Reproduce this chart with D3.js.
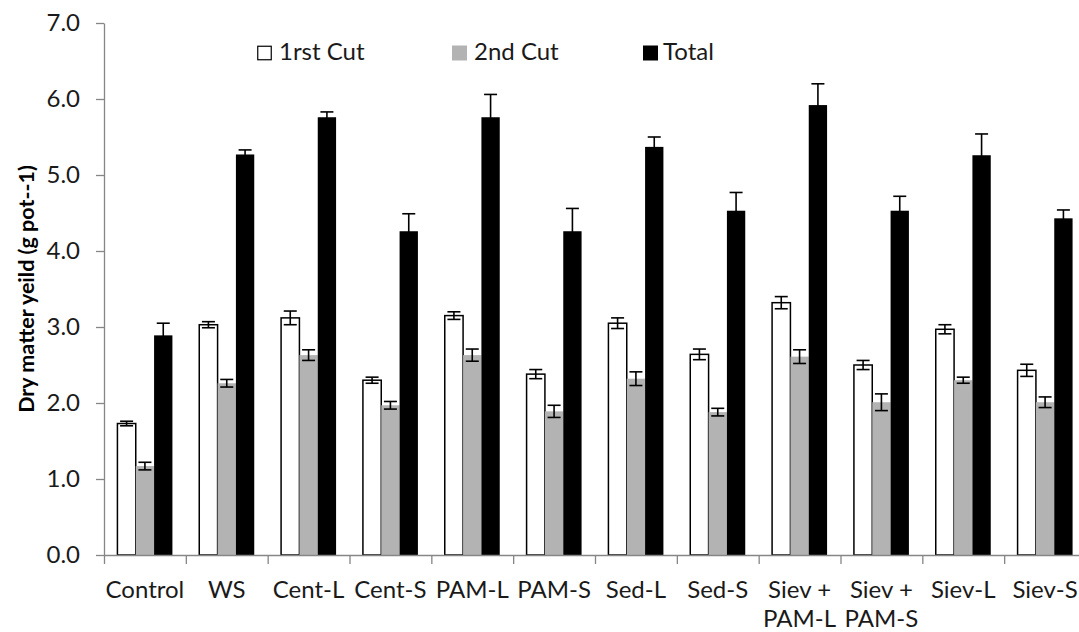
<!DOCTYPE html>
<html>
<head>
<meta charset="utf-8">
<script src="https://cdn.jsdelivr.net/npm/d3@7"></script>
<style>
  body { margin: 0; background: #fff; }
  svg { display: block; font-family: Lato, "Open Sans", sans-serif; }
</style>
</head>
<body>
<svg id="chart"></svg>
<script>
// data
const categories = ["Control", "WS", "Cent-L", "Cent-S", "PAM-L", "PAM-S", "Sed-L", "Sed-S",
  "Siev + PAM-L", "Siev + PAM-S", "Siev-L", "Siev-S"];
const categoryLines = [["Control"], ["WS"], ["Cent-L"], ["Cent-S"], ["PAM-L"], ["PAM-S"], ["Sed-L"], ["Sed-S"],
  ["Siev +", "PAM-L"], ["Siev +", "PAM-S"], ["Siev-L"], ["Siev-S"]];
const seriesNames = ["1rst Cut", "2nd Cut", "Total"];
const firstCut = [1.73, 3.03, 3.12, 2.30, 3.15, 2.38, 3.05, 2.64, 3.32, 2.50, 2.97, 2.43];
const firstErr = [0.03, 0.04, 0.09, 0.04, 0.05, 0.06, 0.07, 0.07, 0.08, 0.06, 0.06, 0.08];
const secondCut = [1.17, 2.26, 2.63, 1.97, 2.63, 1.89, 2.32, 1.88, 2.61, 2.01, 2.30, 2.01];
const secondErr = [0.05, 0.05, 0.07, 0.05, 0.08, 0.08, 0.09, 0.05, 0.09, 0.11, 0.04, 0.07];
const total = [2.89, 5.27, 5.76, 4.26, 5.76, 4.26, 5.37, 4.53, 5.92, 4.53, 5.26, 4.43];
const totalErr = [0.16, 0.06, 0.07, 0.23, 0.30, 0.30, 0.13, 0.24, 0.28, 0.19, 0.28, 0.11];
const yTicks = [0, 1, 2, 3, 4, 5, 6, 7];

const width = 1079;
const height = 632;
const margin = { top: 23, right: -7, bottom: 77, left: 104 };

const values = [firstCut, secondCut, total];
const errors = [firstErr, secondErr, totalErr];
const fills = ["#ffffff", "#b3b3b3", "#000000"];

const svg = d3.select("#chart")
  .attr("width", width)
  .attr("height", height);

// scales
const x = d3.scaleBand()
  .domain(categories)
  .range([margin.left, width - margin.right])
  .padding(0);

const groupW = x.bandwidth() * 0.672;
const xSub = d3.scaleBand()
  .domain(seriesNames)
  .range([(x.bandwidth() - groupW) / 2, (x.bandwidth() + groupW) / 2])
  .padding(0);

const y = d3.scaleLinear()
  .domain([0, 7])
  .range([height - margin.bottom, margin.top]);

// y axis
const yAxis = svg.append("g")
  .attr("transform", `translate(${margin.left},0)`)
  .call(d3.axisLeft(y).tickValues(yTicks).tickFormat(d3.format(".1f")).tickSize(8).tickSizeOuter(0).tickPadding(16));
yAxis.select(".domain").attr("stroke", "#868686").attr("stroke-width", 1.3);
yAxis.selectAll(".tick line").attr("stroke", "#868686").attr("stroke-width", 1.3);
yAxis.selectAll(".tick text")
  .attr("fill", "#1a1a1a")
  .style("font-size", "24px")
  .style("font-family", "Lato, sans-serif");

// bars
const groups = svg.append("g")
  .selectAll("g")
  .data(categories)
  .join("g")
  .attr("transform", d => `translate(${x(d)},0)`);

seriesNames.forEach((name, s) => {
  groups.append("rect")
    .attr("x", xSub(name))
    .attr("width", xSub.bandwidth())
    .attr("y", (d, i) => y(values[s][i]))
    .attr("height", (d, i) => y(0) - y(values[s][i]))
    .attr("fill", fills[s])
    .attr("stroke", s === 0 ? "#000" : "none")
    .attr("stroke-width", 1.5);
});

// error bars
const capW = 13;
seriesNames.forEach((name, s) => {
  const cx = xSub(name) + xSub.bandwidth() / 2;
  const eb = groups.append("g").attr("stroke", "#000").attr("stroke-width", 1.6).attr("fill", "none");
  eb.append("line")
    .attr("x1", cx).attr("x2", cx)
    .attr("y1", (d, i) => y(values[s][i] + errors[s][i]))
    .attr("y2", (d, i) => y(values[s][i] - errors[s][i]));
  eb.append("line")
    .attr("x1", cx - capW / 2).attr("x2", cx + capW / 2)
    .attr("y1", (d, i) => y(values[s][i] + errors[s][i]))
    .attr("y2", (d, i) => y(values[s][i] + errors[s][i]));
  eb.append("line")
    .attr("x1", cx - capW / 2).attr("x2", cx + capW / 2)
    .attr("y1", (d, i) => y(values[s][i] - errors[s][i]))
    .attr("y2", (d, i) => y(values[s][i] - errors[s][i]));
});

// x axis: ticks sit on the category boundaries
const xEdges = d3.scaleLinear()
  .domain([0, categories.length])
  .range([margin.left, width - margin.right]);
const xAxis = svg.append("g")
  .attr("transform", `translate(0,${y(0)})`)
  .call(d3.axisBottom(xEdges).tickValues(d3.range(categories.length + 1)).tickFormat("").tickSize(9).tickSizeOuter(0));
xAxis.select(".domain").attr("stroke", "#868686").attr("stroke-width", 1.3);
xAxis.selectAll(".tick line").attr("stroke", "#868686").attr("stroke-width", 1.3);

// category labels
const labels = svg.append("g")
  .selectAll("text")
  .data(categories)
  .join("text")
  .attr("x", d => x(d) + x.bandwidth() / 2)
  .attr("y", y(0) + 43)
  .attr("text-anchor", "middle")
  .attr("fill", "#1a1a1a")
  .style("font-size", "24px");
labels.selectAll("tspan")
  .data((d, i) => categoryLines[i])
  .join("tspan")
  .attr("x", function () { return this.parentNode.getAttribute("x"); })
  .attr("dy", (d, j) => j === 0 ? 0 : 29)
  .text(d => d);

// y title
svg.append("text")
  .attr("transform", `translate(34,${(y(0) + y(7)) / 2}) rotate(-90)`)
  .attr("text-anchor", "middle")
  .attr("fill", "#000")
  .style("font-size", "21.5px")
  .style("font-weight", "bold")
  .text("Dry matter yeild (g pot--1)");

// legend
const legendX = [257, 452, 643];
const legend = svg.append("g")
  .selectAll("g")
  .data(seriesNames)
  .join("g")
  .attr("transform", (d, i) => `translate(${legendX[i]},45.5)`);
legend.append("rect")
  .attr("x", (d, i) => i === 0 ? 0.75 : 0)
  .attr("y", (d, i) => i === 0 ? 0.75 : 0)
  .attr("width", (d, i) => i === 0 ? 13.5 : 15)
  .attr("height", (d, i) => i === 0 ? 13.5 : 15)
  .attr("fill", (d, i) => fills[i])
  .attr("stroke", (d, i) => i === 0 ? "#000" : "none")
  .attr("stroke-width", 1.2);
legend.append("text")
  .attr("x", (d, i) => i === 2 ? 20 : 22)
  .attr("y", 14.5)
  .attr("fill", "#1a1a1a")
  .style("font-size", "24px")
  .text(d => d);
</script>
</body>
</html>
